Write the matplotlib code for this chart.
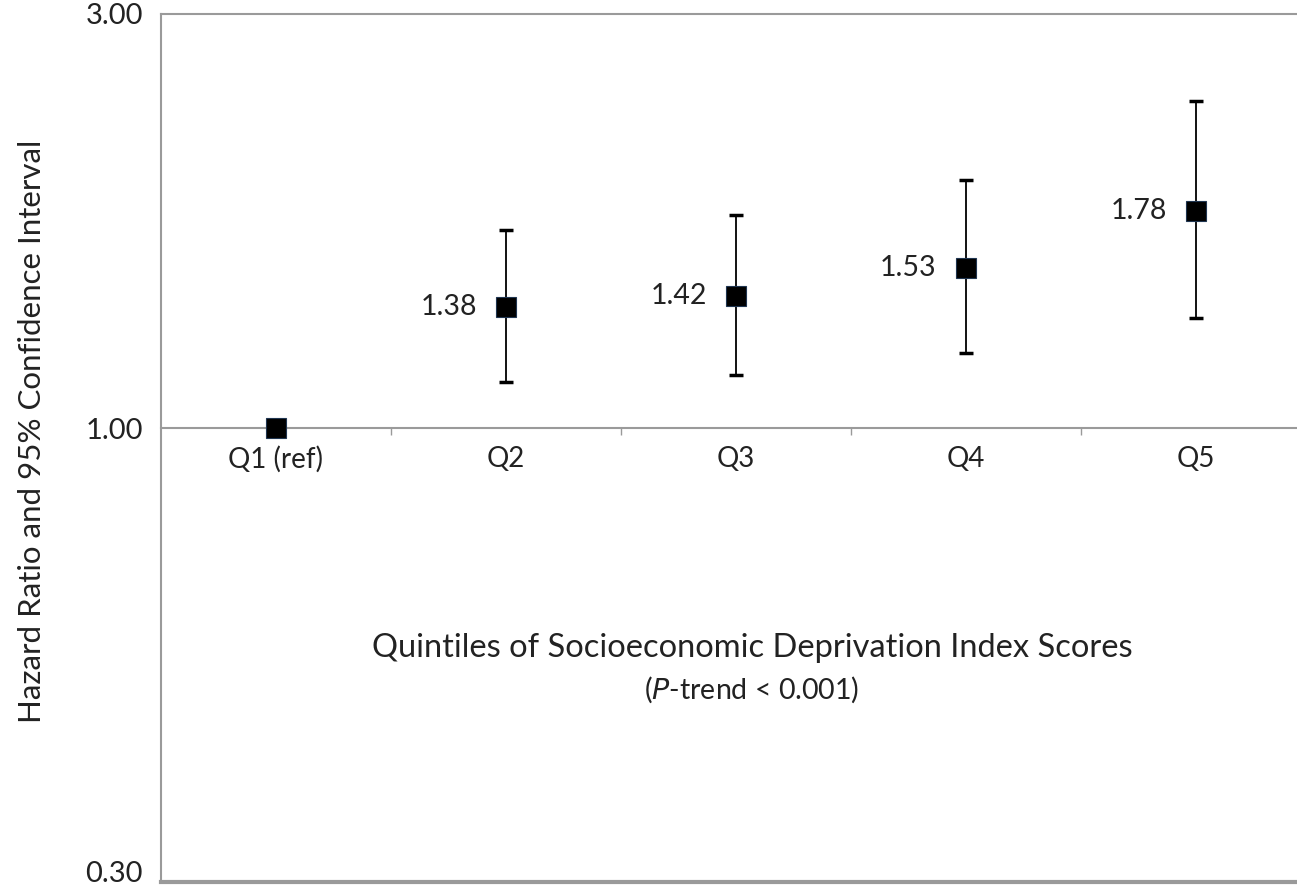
import matplotlib
matplotlib.use('Agg')
import matplotlib.pyplot as plt
from matplotlib.ticker import FixedLocator, NullLocator

# 数据
categories = ['Q1 (ref)', 'Q2', 'Q3', 'Q4', 'Q5']
hazard_ratio = [1.00, 1.38, 1.42, 1.53, 1.78]
ci_lower = [1.00, 1.13, 1.15, 1.22, 1.34]
ci_upper = [1.00, 1.69, 1.76, 1.93, 2.38]
value_labels = ['', '1.38', '1.42', '1.53', '1.78']
y_ticks = [0.30, 1.00, 3.00]

plt.rcParams['font.family'] = ['Lato', 'DejaVu Sans']
frame_color = '#9a9a9a'
text_color = '#222222'

fig = plt.figure(figsize=(12.97, 8.92), dpi=100)
ax = fig.add_axes([161 / 1297, 10 / 892, 1150 / 1297, 868 / 892])

x = list(range(len(categories)))

# 误差线（Q1 为参照，无误差线）
err_x = x[1:]
err_y = hazard_ratio[1:]
yerr = [[h - l for h, l in zip(hazard_ratio[1:], ci_lower[1:])],
        [u - h for h, u in zip(hazard_ratio[1:], ci_upper[1:])]]
ax.errorbar(err_x, err_y, yerr=yerr, fmt='none', ecolor='black',
            elinewidth=1.3, capsize=5, capthick=2.5, zorder=2)

ax.plot(x, hazard_ratio, linestyle='none', marker='s', markersize=14,
        markerfacecolor='black', markeredgecolor='#1f3550',
        markeredgewidth=0.8, zorder=3, clip_on=False)

for xi, yi, lab in zip(x, hazard_ratio, value_labels):
    if lab:
        ax.annotate(lab, (xi, yi), xytext=(-21, 0), textcoords='offset points',
                    ha='right', va='center', fontsize=20.5, color=text_color)

ax.set_yscale('log')
ax.set_ylim(0.30, 3.00)
ax.set_xlim(-0.5, 4.5)
ax.yaxis.set_major_locator(FixedLocator(y_ticks))
ax.yaxis.set_minor_locator(NullLocator())
ax.set_yticklabels([f'{v:.2f}' for v in y_ticks])
ax.tick_params(axis='y', length=0, pad=13, labelsize=21, labelcolor=text_color)
# 0.30 标签贴着底边，避免被裁掉
ax.yaxis.get_major_ticks()[0].label1.set_verticalalignment('baseline')

# 横轴放在 HR = 1 处
ax.spines['bottom'].set_position(('data', 1.0))
ax.spines['bottom'].set_color(frame_color)
ax.spines['bottom'].set_linewidth(1.5)
ax.set_xticks(x)
ax.set_xticklabels(categories)
ax.set_xticks([i + 0.5 for i in x[:-1]], minor=True)
ax.tick_params(axis='x', which='major', length=0, pad=13, labelsize=20,
               labelcolor=text_color)
ax.tick_params(axis='x', which='minor', length=5, width=1, color=frame_color,
               direction='out')

for s in ['left', 'top', 'right']:
    ax.spines[s].set_color(frame_color)
    ax.spines[s].set_linewidth(1.5)
ax.axhline(0.30, color=frame_color, linewidth=3, clip_on=False)

ax.text(0.514, 0.27, 'Quintiles of Socioeconomic Deprivation Index Scores',
        transform=ax.transAxes, ha='center', va='center', fontsize=23.5,
        color=text_color)
ax.text(0.514, 0.221, r'($\mathit{P}$-trend < 0.001)', transform=ax.transAxes,
        ha='center', va='center', fontsize=20.5, color=text_color)

fig.text(32 / 1297, 1 - 431 / 892, 'Hazard Ratio and 95% Confidence Interval',
         rotation=90, ha='center', va='center', fontsize=22.5, color=text_color)

fig.savefig('out.png', dpi=100)
